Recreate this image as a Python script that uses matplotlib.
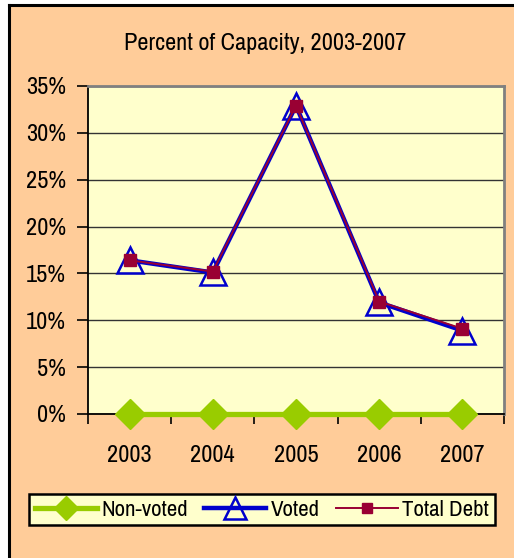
import matplotlib
matplotlib.use("Agg")
import matplotlib.pyplot as plt
from matplotlib.lines import Line2D
from matplotlib import font_manager

years = ["2003", "2004", "2005", "2006", "2007"]
non_voted = [0.0, 0.0, 0.0, 0.0, 0.0]
voted = [16.4, 15.1, 32.9, 11.9, 8.9]
total_debt = [16.4, 15.2, 32.9, 12.0, 9.1]
yticks = [0, 5, 10, 15, 20, 25, 30, 35]
ytick_labels = ["0%", "5%", "10%", "15%", "20%", "25%", "30%", "35%"]
title = "Percent of Capacity, 2003-2007"

names = {f.name for f in font_manager.fontManager.ttflist}
fam = "Liberation Sans"
for cand in ["Liberation Sans Narrow", "Arial Narrow", "Archivo Narrow", "Roboto Condensed",
             "Barlow Condensed"]:
    if cand in names:
        fam = cand
        break
plt.rcParams["font.family"] = [fam, "DejaVu Sans"]

W, H = 514, 558
fig = plt.figure(figsize=(W / 100, H / 100), dpi=100)
fig.patch.set_facecolor("white")

bg = plt.Rectangle((9 / W, 0), 1.0, (H - 5) / H, transform=fig.transFigure,
                   facecolor="#FFCC99", edgecolor="none", zorder=-10)
fig.patches.append(bg)
fig.add_artist(Line2D([9 / W, 9 / W], [0, (H - 5) / H], transform=fig.transFigure,
                      color="black", lw=2.2))
fig.add_artist(Line2D([9 / W, 1.0], [(H - 5) / H, (H - 5) / H], transform=fig.transFigure,
                      color="black", lw=2.2))

ax = fig.add_axes([88 / W, (H - 414) / H, (504 - 88) / W, (414 - 86) / H])
ax.set_facecolor("#FFFFCC")

x = list(range(len(years)))
ax.plot(x, non_voted, color="#99CC00", lw=3.8, marker="D", ms=15,
        markerfacecolor="#99CC00", markeredgecolor="#99CC00", label="Non-voted",
        clip_on=False, zorder=5)
ax.plot(x, voted, color="#0000CC", lw=3.2, marker="^", ms=19,
        markerfacecolor="none", markeredgecolor="#0000CC", markeredgewidth=1.8,
        label="Voted", zorder=3)
ax.plot(x, total_debt, color="#990033", lw=1.4, marker="s", ms=9,
        markerfacecolor="#990033", markeredgecolor="#990033", label="Total Debt",
        zorder=4)

ax.set_xlim(-0.5, len(years) - 0.5)
ax.set_ylim(0, 35)
ax.set_yticks(yticks)
ax.set_yticklabels(ytick_labels, fontsize=17.5)
ax.set_xticks(x)
ax.set_xticklabels(years, fontsize=17.5)
ax.tick_params(axis="x", which="major", length=0, pad=22)
ax.set_xticks([i - 0.5 for i in range(len(years) + 1)], minor=True)
ax.tick_params(axis="x", which="minor", length=7, width=1.2, direction="out", color="black")
ax.tick_params(axis="y", length=8, width=1.2, direction="out", color="black", pad=8)

ax.yaxis.grid(True, color="#333333", lw=1.0)
ax.set_axisbelow(True)
for s in ["left", "bottom"]:
    ax.spines[s].set_color("black")
    ax.spines[s].set_linewidth(1.3)
for s in ["top", "right"]:
    ax.spines[s].set_color("#808080")
    ax.spines[s].set_linewidth(2)

fig.text(265 / W, 1 - 44 / H, title, ha="center", va="center", fontsize=17.5)

leg = fig.legend(loc="center", bbox_to_anchor=(32 / W, (H - 530) / H, 460 / W, 41 / H),
                 ncol=3, fontsize=16.5, frameon=True, fancybox=False,
                 handlelength=2.7, handletextpad=0.2, columnspacing=0.7,
                 borderpad=0.25, borderaxespad=0, markerscale=0.8)
leg.get_frame().set_facecolor("#FFFFCC")
leg.get_frame().set_edgecolor("black")
leg.get_frame().set_linewidth(1.8)
leg.get_frame().set_alpha(1)

fig.savefig("out.png", dpi=100)
